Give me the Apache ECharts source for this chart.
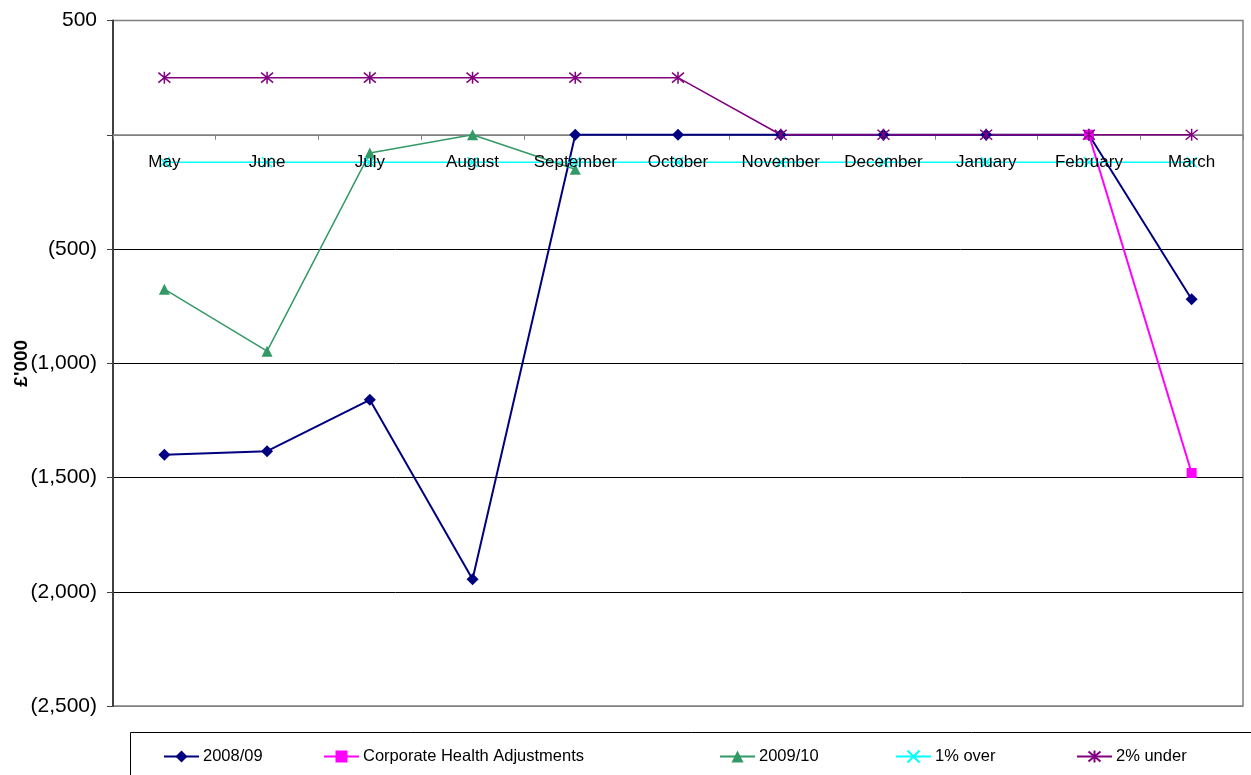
<!DOCTYPE html>
<html>
<head>
<meta charset="utf-8">
<title>Monthly variance (£'000)</title>
<script src="https://cdn.jsdelivr.net/npm/echarts@6/dist/echarts.min.js"></script>
<style>
  html, body { margin: 0; padding: 0; background: #fff; }
  #chart { width: 1251px; height: 775px; }
</style>
</head>
<body>
<div id="chart"></div>
<script>
// Months of the financial year
const categories = ['May', 'June', 'July', 'August', 'September', 'October',
  'November', 'December', 'January', 'February', 'March'];

// Values in £'000
const fy0809 = [-1400, -1385, -1160, -1945, 0, 0, 0, 0, 0, 0, -720];
const corporateHealth = [null, null, null, null, null, null, null, null, null, 0, -1480];
const fy0910 = [-676, -947, -80, 0, -151, null, null, null, null, null, null];
const onePercentOver = [-120, -120, -120, -120, -120, -120, -120, -120, -120, -120, -120];
const twoPercentUnder = [250, 250, 250, 250, 250, 250, 0, 0, 0, 0, 0];

// Y axis range and step
const yMin = -2500;
const yMax = 500;
const yStep = 500;

const FONT = '"Liberation Sans", Arial, sans-serif';

// Plot area inside the 1251 x 775 canvas
const gridBox = { left: 113, right: 8, top: 20.5, bottom: 69 };
const plotHeight = 775 - gridBox.top - gridBox.bottom;
// The category axis sits on the zero line: shift it up from the bottom edge
const zeroOffset = (0 - yMin) / (yMax - yMin) * plotHeight;

const crossSymbol = 'path://M0,0L10,10M10,0L0,10';
const starSymbol = 'path://M0,0L10,10M10,0L0,10M5,-1L5,11';

function bracketed(v) {
  if (v === 0) return '';
  const s = Math.abs(v).toLocaleString('en-GB');
  return v < 0 ? '(' + s + ')' : s;
}

const chart = echarts.init(document.getElementById('chart'), null, { renderer: 'canvas' });

const legendBase = {
  top: 748,
  padding: 0,
  itemWidth: 35,
  itemHeight: 15,
  itemGap: 0,
  textStyle: { color: '#000', fontSize: 16.5, fontFamily: FONT, padding: [0, 0, 0, -1] }
};

chart.setOption({
  animation: false,
  backgroundColor: '#fff',
  textStyle: { fontFamily: FONT },
  grid: {
    left: gridBox.left,
    right: gridBox.right,
    top: gridBox.top,
    bottom: gridBox.bottom,
    outerBoundsMode: 'none',
    containLabel: false,
    show: true,
    borderColor: '#808080',
    borderWidth: 1.5,
    backgroundColor: 'transparent'
  },
  legend: [
    Object.assign({}, legendBase, { left: 163, data: ['2008/09'] }),
    Object.assign({}, legendBase, { left: 323, data: ['Corporate Health Adjustments'] }),
    Object.assign({}, legendBase, { left: 719, data: ['2009/10'] }),
    Object.assign({}, legendBase, { left: 895, data: ['1% over'] }),
    Object.assign({}, legendBase, { left: 1076, data: ['2% under'] })
  ],
  graphic: [{
    type: 'rect',
    shape: { x: 130.5, y: 732.5, width: 1200, height: 100 },
    style: { fill: 'none', stroke: '#000', lineWidth: 1 },
    silent: true
  }],
  xAxis: [
    {
      // zero line with boundary ticks, beneath the series
      type: 'category',
      data: categories,
      boundaryGap: true,
      position: 'bottom',
      offset: -zeroOffset,
      axisLine: { onZero: false, lineStyle: { color: '#808080', width: 1.5 } },
      axisTick: { show: true, length: 5, lineStyle: { color: '#808080', width: 1 } },
      axisLabel: { show: false },
      splitLine: { show: false }
    },
    {
      // month names, drawn over the series
      type: 'category',
      data: categories,
      boundaryGap: true,
      position: 'bottom',
      offset: -zeroOffset,
      z: 10,
      axisLine: { show: false, onZero: false },
      axisTick: { show: false },
      axisLabel: { color: '#000', fontSize: 17, margin: 19, interval: 0, fontFamily: FONT },
      splitLine: { show: false }
    }
  ],
  yAxis: {
    type: 'value',
    min: yMin,
    max: yMax,
    interval: yStep,
    name: "£'000",
    nameLocation: 'middle',
    nameRotate: 90,
    nameGap: 82,
    nameMoveOverlap: false,
    nameTextStyle: { color: '#000', fontWeight: 'bold', fontSize: 19, fontFamily: FONT },
    axisLine: { show: true, lineStyle: { color: '#404040', width: 2 } },
    axisTick: { show: true, length: 6, lineStyle: { color: '#404040', width: 1 } },
    axisLabel: { color: '#000', fontSize: 21, margin: 16, fontFamily: FONT, formatter: bracketed },
    splitLine: {
      show: true,
      lineStyle: {
        color: ['#808080', '#000', '#000', '#000', '#000', '#808080', '#808080'],
        width: 1
      }
    }
  },
  series: [
    {
      name: '2008/09',
      type: 'line',
      data: fy0809,
      symbol: 'diamond',
      symbolSize: 12,
      lineStyle: { color: '#000080', width: 2 },
      itemStyle: { color: '#000080' }
    },
    {
      name: 'Corporate Health Adjustments',
      type: 'line',
      data: corporateHealth,
      symbol: 'rect',
      symbolSize: 10,
      lineStyle: { color: '#FF00FF', width: 2 },
      itemStyle: { color: '#FF00FF' }
    },
    {
      name: '2009/10',
      type: 'line',
      data: fy0910,
      symbol: 'triangle',
      symbolSize: 11,
      lineStyle: { color: '#339966', width: 1.5 },
      itemStyle: { color: '#339966' }
    },
    {
      name: '1% over',
      type: 'line',
      data: onePercentOver,
      symbol: crossSymbol,
      symbolSize: 10,
      lineStyle: { color: '#00FFFF', width: 1.5 },
      itemStyle: { color: 'none', borderColor: '#00FFFF', borderWidth: 1.5 }
    },
    {
      name: '2% under',
      type: 'line',
      data: twoPercentUnder,
      symbol: starSymbol,
      symbolSize: 12,
      lineStyle: { color: '#800080', width: 1.5 },
      itemStyle: { color: 'none', borderColor: '#800080', borderWidth: 1.5 }
    }
  ]
});
</script>
</body>
</html>
